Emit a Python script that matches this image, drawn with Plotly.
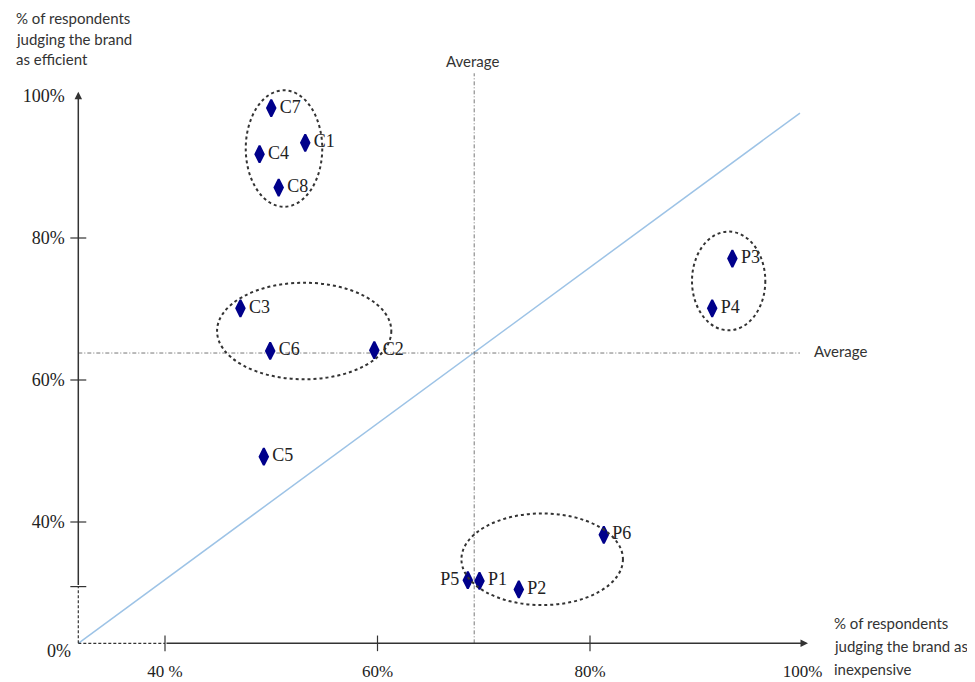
import plotly.graph_objects as go

# ---------------- data ----------------
brands = ["C7", "C1", "C4", "C8", "C3", "C6", "C2", "C5",
          "P3", "P4", "P6", "P5", "P1", "P2"]
inexpensive = [50.0, 53.2, 48.9, 50.7, 47.1, 49.9, 59.7, 49.3,
               93.4, 91.5, 81.3, 68.5, 69.6, 73.3]
efficient = [98.3, 93.4, 91.8, 87.1, 70.1, 64.1, 64.2, 49.2,
             77.1, 70.1, 38.2, 31.8, 31.7, 30.5]
label_pos = ["middle right"] * 11 + ["middle left", "middle right", "middle right"]

avg_inexpensive = 69.1
avg_efficient = 63.8

x_tick_vals = [40, 60, 80, 100]
x_tick_text = ["40 %", "60%", "80%", "100%"]
y_tick_vals = [40, 60, 80, 100]
y_tick_text = ["40%", "60%", "80%", "100%"]
y_minor_tick = 30.9

# axis origin (the chart's axes are truncated)
x_origin = 31.84
y_origin = 22.91
x_end = 100.52
y_end = 100.6

# diagonal reference line end point
diag_end = (99.76, 97.6)

# groups (ellipses): x0, x1, y0, y1
groups = [
    (47.6, 54.8, 84.4, 100.8),
    (44.9, 61.3, 60.1, 73.7),
    (89.6, 96.5, 67.0, 80.9),
    (67.9, 83.1, 28.3, 41.2),
]

y_title_lines = ["% of respondents", "judging the brand", "as efficient"]
x_title_lines = ["% of respondents", "judging the brand as", "inexpensive"]

# ---------------- layout geometry ----------------
# the page body adds an 8px margin around the figure
OFF = 8
W, H = 975 - OFF, 682 - OFF
L, R, T, B = 40, 830, 70, 660  # plot area in page pixels
x_range = [28.2353, 102.5882]
y_range = [20.5634, 103.6620]


def px(xp):
    return (xp - L) / (R - L)


def py(yp):
    return (B - yp) / (B - T)


SERIF = "Liberation Serif"
SANS = "Lato"
NAVY = "#00008B"

fig = go.Figure()

fig.add_trace(go.Scatter(
    x=inexpensive, y=efficient, text=brands,
    mode="markers+text",
    textposition=label_pos,
    textfont=dict(family=SERIF, size=18, color="#222222"),
    marker=dict(symbol="diamond-tall", size=12, color=NAVY,
                line=dict(color=NAVY, width=2)),
    cliponaxis=False,
    showlegend=False,
    hoverinfo="skip",
))

shapes = []
# diagonal
shapes.append(dict(type="line", x0=x_origin, y0=y_origin, x1=diag_end[0], y1=diag_end[1],
                   line=dict(color="#9DC3E6", width=1.5), layer="below"))
# average lines
avg_dash = "4px,2px,1px,2px"
shapes.append(dict(type="line", x0=avg_inexpensive, x1=avg_inexpensive,
                   y0=y_origin, y1=103.2,
                   line=dict(color="#777777", width=1, dash=avg_dash), layer="below"))
shapes.append(dict(type="line", x0=x_origin, x1=99.76,
                   y0=avg_efficient, y1=avg_efficient,
                   line=dict(color="#777777", width=1, dash=avg_dash), layer="below"))
# ellipses
for (ex0, ex1, ey0, ey1) in groups:
    shapes.append(dict(type="circle", x0=ex0, x1=ex1, y0=ey0, y1=ey1,
                       line=dict(color="#333333", width=2, dash="dot"), layer="above"))
# dotted axis parts near the origin
shapes.append(dict(type="line", x0=x_origin, x1=40, y0=y_origin, y1=y_origin,
                   line=dict(color="#333333", width=1.2, dash="3px,2px")))
shapes.append(dict(type="line", x0=x_origin, x1=x_origin, y0=y_origin, y1=y_minor_tick,
                   line=dict(color="#333333", width=1.2, dash="3px,2px")))
# tick crosses
for v in [40, 60, 80]:
    shapes.append(dict(type="line", x0=v, x1=v, y0=y_origin - 1.1, y1=y_origin + 1.1,
                       line=dict(color="#333333", width=1.2)))
for v in [y_minor_tick, 40, 60, 80]:
    shapes.append(dict(type="line", x0=x_origin - 0.75, x1=x_origin + 0.75, y0=v, y1=v,
                       line=dict(color="#333333", width=1.2)))

annotations = []
# axes with arrow heads
annotations.append(dict(x=x_origin, y=y_end, ax=x_origin, ay=y_minor_tick,
                        xref="x", yref="y", axref="x", ayref="y", text="",
                        showarrow=True, arrowhead=2, arrowsize=1, arrowwidth=1.5,
                        arrowcolor="#333333", standoff=0, startstandoff=0))
annotations.append(dict(x=x_end, y=y_origin, ax=40, ay=y_origin,
                        xref="x", yref="y", axref="x", ayref="y", text="",
                        showarrow=True, arrowhead=2, arrowsize=1, arrowwidth=1.5,
                        arrowcolor="#333333", standoff=0, startstandoff=0))
# origin label
annotations.append(dict(x=px(73), y=py(651), xref="paper", yref="paper",
                        xanchor="right", yanchor="middle", showarrow=False,
                        text="0%", font=dict(family=SERIF, size=18, color="#222222")))
# axis titles (one annotation per line to match the line spacing)
for i, line in enumerate(y_title_lines):
    annotations.append(dict(x=px(14), y=py(18 + 20.5 * i), xref="paper", yref="paper",
                            xanchor="left", yanchor="middle", align="left", showarrow=False,
                            text=line, font=dict(family=SANS, size=15, color="#333333")))
for i, line in enumerate(x_title_lines):
    annotations.append(dict(x=px(832), y=py(623 + 23 * i), xref="paper", yref="paper",
                            xanchor="left", yanchor="middle", align="left", showarrow=False,
                            text=line, font=dict(family=SANS, size=15, color="#333333")))
# average labels
annotations.append(dict(x=px(472), y=py(61), xref="paper", yref="paper",
                        xanchor="center", yanchor="middle", showarrow=False,
                        text="Average", font=dict(family=SANS, size=15, color="#333333")))
annotations.append(dict(x=px(812), y=py(351), xref="paper", yref="paper",
                        xanchor="left", yanchor="middle", showarrow=False,
                        text="Average", font=dict(family=SANS, size=15, color="#333333")))

fig.update_layout(
    template="none",
    width=W, height=H,
    margin=dict(l=L - OFF, r=975 - R, t=T - OFF, b=682 - B, pad=0, autoexpand=False),
    paper_bgcolor="white", plot_bgcolor="white",
    shapes=shapes, annotations=annotations,
    xaxis=dict(range=x_range, showgrid=False, zeroline=False, showline=False,
               automargin=False,
               tickvals=x_tick_vals, ticktext=x_tick_text,
               ticks="outside", ticklen=12, tickcolor="rgba(0,0,0,0)",
               tickfont=dict(family=SERIF, size=17, color="#222222"),
               anchor="free",
               position=(y_origin - y_range[0]) / (y_range[1] - y_range[0])),
    yaxis=dict(range=y_range, showgrid=False, zeroline=False, showline=False,
               automargin=False,
               tickvals=y_tick_vals, ticktext=y_tick_text,
               ticks="outside", ticklen=10, tickcolor="rgba(0,0,0,0)",
               tickfont=dict(family=SERIF, size=18, color="#222222"),
               anchor="free",
               position=(x_origin - x_range[0]) / (x_range[1] - x_range[0])),
)

fig.write_html("out.html")
